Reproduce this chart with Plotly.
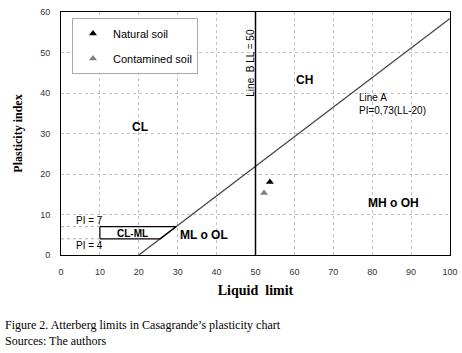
import plotly.graph_objects as go

# ---- data ----
natural_ll = [53.7]
natural_pi = [18.0]
contam_ll = [52.2]
contam_pi = [15.3]

line_a_slope = 0.73
line_a_offset = 20
ll_max = 100
line_b_ll = 50
pi_low = 4
pi_high = 7
ll_min_clml = 10

x_ticks = [0, 10, 20, 30, 40, 50, 60, 70, 80, 90, 100]
y_ticks = [0, 10, 20, 30, 40, 50, 60]

def line_a(ll):
    return line_a_slope * (ll - line_a_offset)

def line_a_inv(pi):
    return pi / line_a_slope + line_a_offset

W, H = 462, 353
L, R, T, B = 61, 12, 12, 98
pw, ph = W - L - R, H - T - B

fig = go.Figure()

# Line A
fig.add_trace(go.Scatter(x=[line_a_offset, ll_max], y=[0, line_a(ll_max)], mode="lines",
                         line=dict(color="#444444", width=1.3), showlegend=False, hoverinfo="skip"))
# Line B
fig.add_trace(go.Scatter(x=[line_b_ll, line_b_ll], y=[0, 60], mode="lines",
                         line=dict(color="black", width=1.5), showlegend=False, hoverinfo="skip"))
# CL-ML box
fig.add_trace(go.Scatter(
    x=[ll_min_clml, line_a_inv(pi_low), line_a_inv(pi_high), ll_min_clml, ll_min_clml],
    y=[pi_low, pi_low, pi_high, pi_high, pi_low], mode="lines",
    line=dict(color="black", width=1.2), showlegend=False, hoverinfo="skip"))
# PI = 7 / PI = 4 guide lines
for pv in (pi_high, pi_low):
    fig.add_trace(go.Scatter(x=[0, ll_min_clml], y=[pv, pv], mode="lines",
                             line=dict(color="#aaaaaa", width=1, dash="dot"),
                             showlegend=False, hoverinfo="skip"))

fig.add_trace(go.Scatter(x=natural_ll, y=natural_pi, mode="markers", name="Natural soil",
                         legendgroup="a",
                         marker=dict(symbol="triangle-up", size=7, color="black")))
fig.add_trace(go.Scatter(x=contam_ll, y=contam_pi, mode="markers", name="Contamined soil",
                         legendgroup="b",
                         marker=dict(symbol="triangle-up", size=7, color="#808080")))

sans = "Liberation Sans, Arial, sans-serif"
serif = "Liberation Serif, Times New Roman, serif"

def txt(x, y, s, size=11, bold=True, **kw):
    fig.add_annotation(x=x, y=y, text=f"<b>{s}</b>" if bold else s, showarrow=False,
                       font=dict(family=sans, size=size, color="black"), **kw)

txt(20.3, 31.6, "CL", 12)
txt(62.7, 43.2, "CH", 12)
txt(36.8, 4.9, "ML o OL", 12)
txt(85.4, 12.8, "MH o OH", 12)
txt(18.3, 5.4, "CL-ML", 10)
txt(7.2, 8.6, "PI = 7", 10, bold=False)
txt(7.2, 2.3, "PI = 4", 10, bold=False)
fig.add_annotation(x=76.0, y=37.4, text="Line A<br>PI=0,73(LL-20)", showarrow=False, xanchor="left",
                   align="left", font=dict(family=sans, size=10, color="black"))
fig.add_annotation(x=48.5, y=47.4, text="Line  B LL = 50", showarrow=False, textangle=-90,
                   font=dict(family=sans, size=10, color="black"))

# caption
fig.add_annotation(x=-L / pw + 3 / pw, y=1 - (325 - T) / ph, xref="paper", yref="paper",
                   text="Figure 2. Atterberg limits in Casagrande’s plasticity chart",
                   showarrow=False, xanchor="left", yanchor="middle",
                   font=dict(family=serif, size=12, color="black"))
fig.add_annotation(x=-L / pw + 3 / pw, y=1 - (341 - T) / ph, xref="paper", yref="paper",
                   text="Sources: The authors", showarrow=False, xanchor="left", yanchor="middle",
                   font=dict(family=serif, size=12, color="black"))

axis_common = dict(showline=True, linecolor="black", linewidth=1, mirror=True,
                   showgrid=True, gridcolor="#c0c0c0", griddash="dot", gridwidth=1,
                   zeroline=False, ticks="", automargin=False, ticklabelstandoff=8,
                   tickfont=dict(family=sans, size=9, color="#333333"))

fig.update_layout(
    width=W, height=H, margin=dict(l=L, r=R, t=T, b=B),
    paper_bgcolor="white", plot_bgcolor="white",
    xaxis=dict(range=[0, 100], tickvals=x_ticks, **axis_common,
               title=dict(text="<b>Liquid  limit</b>", font=dict(family=serif, size=14, color="black"),
                          standoff=9)),
    yaxis=dict(range=[0, 60], tickvals=y_ticks, **axis_common,
               title=dict(text="<b>Plasticity index</b>", font=dict(family=serif, size=12, color="black"),
                          standoff=14)),
    legend=dict(x=11 / pw, y=1 - 6 / ph, xanchor="left", yanchor="top",
                bgcolor="white", bordercolor="#aaaaaa", borderwidth=1,
                font=dict(family=sans, size=11, color="black"), itemwidth=30, tracegroupgap=6),
)

fig.write_html("out.html", config={"displayModeBar": False},
               post_script="document.body.style.margin='0';")
